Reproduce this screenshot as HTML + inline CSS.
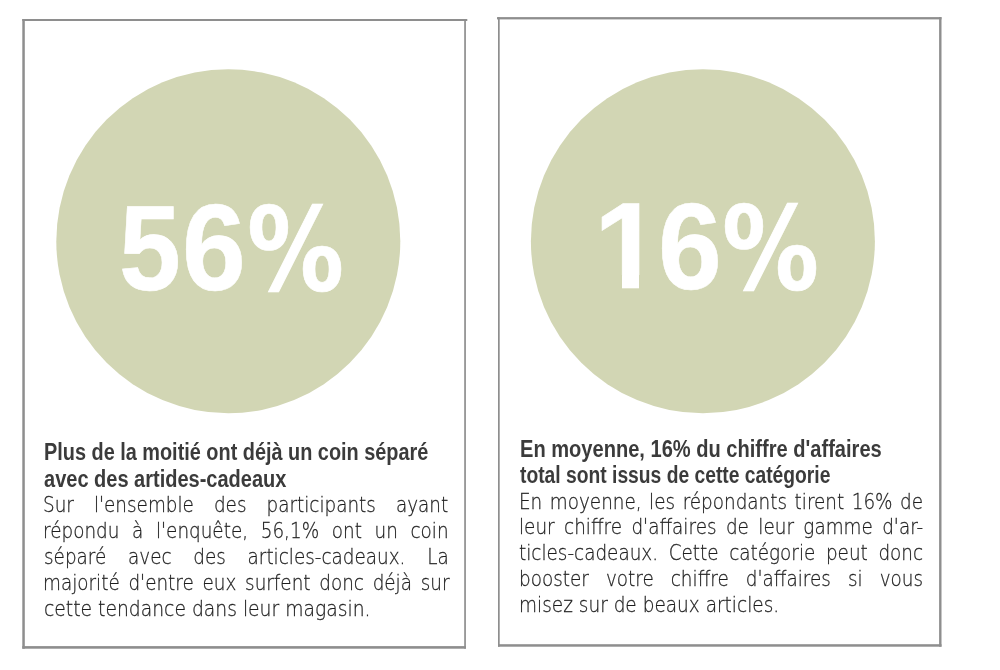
<!DOCTYPE html>
<html lang="fr">
<head>
<meta charset="utf-8">
<title>Articles-cadeaux</title>
<style>
html,body{margin:0;padding:0;background:#fff;}
body{width:1000px;height:670px;position:relative;overflow:hidden;font-family:"Liberation Sans",sans-serif;}
svg.bg{position:absolute;left:0;top:0;}
.big{position:absolute;top:185px;font-weight:bold;font-size:122px;line-height:122px;color:#fff;-webkit-text-stroke:0.6px #fff;white-space:nowrap;transform-origin:0 0;}
.pc{font-family:"DejaVu Sans Condensed","DejaVu Sans","Liberation Sans",sans-serif;font-size:116px;line-height:116px;}
.cov{position:absolute;background:#d2d6b4;}
.ln{position:absolute;white-space:nowrap;transform-origin:0 0;line-height:26px;}
.h{font-weight:bold;font-size:23px;color:#3b3b3b;}
.b{font-family:"DejaVu Sans Light","DejaVu Sans","Liberation Sans",sans-serif;font-weight:200;font-size:21.5px;color:#1e1e1e;-webkit-text-stroke:0.26px #1e1e1e;}
.j{text-align:justify;text-align-last:justify;}
</style>
</head>
<body>
<svg class="bg" width="1000" height="670" viewBox="0 0 1000 670">
  <g fill="#8e8e8e">
    <rect x="22.3" y="19" width="445" height="2"/>
    <rect x="22.3" y="19" width="2.5" height="629.7"/>
    <rect x="464.2" y="19" width="1.7" height="629.7"/>
    <rect x="22.3" y="646.1" width="443.6" height="2.6"/>
    <rect x="497" y="17.1" width="444.5" height="2.3"/>
    <rect x="498" y="17.1" width="1.7" height="629.6"/>
    <rect x="939.1" y="17.1" width="2.4" height="629.6"/>
    <rect x="498" y="644.2" width="443.5" height="2.5"/>
  </g>
  <circle cx="228.3" cy="241.2" r="172" fill="#d2d6b4"/>
  <circle cx="702.9" cy="241.2" r="172" fill="#d2d6b4"/>
</svg>
<div class="big" style="left:118.6px;top:187.5px;transform:scale(0.912,0.99);">5</div>
<div class="big" style="left:182.4px;top:187px;transform:scaleX(0.94);">6</div>
<div class="big pc" style="left:246.9px;top:191.6px;transform:scaleX(0.928);">%</div>
<div class="big" style="left:593.8px;top:185.3px;">1</div>
<div class="cov" style="left:597px;top:275px;width:25.3px;height:16px;"></div>
<div class="cov" style="left:639.45px;top:275px;width:20px;height:16px;"></div>
<div class="big" style="left:657.9px;top:186px;transform:scaleX(0.94);">6</div>
<div class="big pc" style="left:722.2px;top:190.6px;transform:scaleX(0.928);">%</div>

<div class="ln h" style="left:44.10px;top:439.0px;transform:scaleX(0.8641);">Plus de la moitié ont déjà un coin séparé</div>
<div class="ln h" style="left:44.10px;top:465.5px;transform:scaleX(0.8698);">avec des artides-cadeaux</div>
<div class="ln b j" style="left:42.72px;top:492.1px;width:473.89px;transform:scaleX(0.8550);">Sur l'ensemble des participants ayant</div>
<div class="ln b j" style="left:43.20px;top:518.1px;width:474.39px;transform:scaleX(0.8550);">répondu à l'enquête, 56,1% ont un coin</div>
<div class="ln b j" style="left:44.10px;top:543.9px;width:473.33px;transform:scaleX(0.8550);">séparé avec des articles-cadeaux. La</div>
<div class="ln b j" style="left:43.20px;top:569.8px;width:475.44px;transform:scaleX(0.8550);">majorité d'entre eux surfent donc déjà sur</div>
<div class="ln b" style="left:44.10px;top:595.8px;transform:scaleX(0.8720);">cette tendance dans leur magasin.</div>
<div class="ln h" style="left:520.08px;top:435.8px;transform:scaleX(0.8727);">En moyenne, 16% du chiffre d'affaires</div>
<div class="ln h" style="left:520.08px;top:462.0px;transform:scaleX(0.8375);">total sont issus de cette catégorie</div>
<div class="ln b j" style="left:519.18px;top:488.6px;width:472.65px;transform:scaleX(0.8550);">En moyenne, les répondants tirent 16% de</div>
<div class="ln b j" style="left:519.18px;top:514.3px;width:472.77px;transform:scaleX(0.8550);">leur chiffre d'affaires de leur gamme d'ar-</div>
<div class="ln b j" style="left:519.18px;top:540.3px;width:472.65px;transform:scaleX(0.8550);">ticles-cadeaux. Cette catégorie peut donc</div>
<div class="ln b j" style="left:519.18px;top:566.2px;width:472.65px;transform:scaleX(0.8550);">booster votre chiffre d'affaires si vous</div>
<div class="ln b" style="left:519.18px;top:592.1px;transform:scaleX(0.8605);">misez sur de beaux articles.</div>
</body>
</html>
